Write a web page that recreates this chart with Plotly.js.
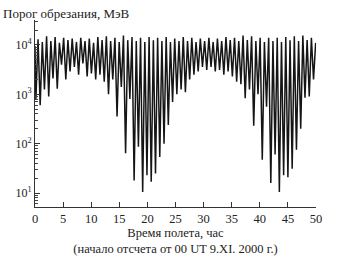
<!DOCTYPE html>
<html><head><meta charset="utf-8">
<script src="https://cdn.plot.ly/plotly-3.0.1.min.js"></script>
<style>html,body{margin:0;padding:0;background:#fff}#c{width:346px;height:263px}</style>
</head><body><div id="c"></div>
<script>
// Trough (minimum) times and values, one per half-orbit
var troughTimes = [0.16,0.92,1.68,2.44,3.20,3.96,4.72,5.48,6.24,7.00,7.76,8.52,9.28,10.04,10.80,11.56,12.32,13.08,13.84,14.60,15.36,16.12,16.88,17.64,18.40,19.16,19.92,20.68,21.44,22.20,22.96,23.72,24.48,25.24,26.00,26.76,27.52,28.28,29.04,29.80,30.56,31.32,32.08,32.84,33.60,34.36,35.12,35.88,36.64,37.40,38.16,38.92,39.68,40.44,41.20,41.96,42.72,43.48,44.24,45.00,45.76,46.52,47.28,48.04,48.80,49.56];
var troughValues = [800,600,1250,900,2100,1300,4000,2000,2900,3600,2500,4200,2300,2650,2000,2500,1800,1000,2000,355,1400,64,800,18,87,10.5,23,17,25,54,100,240,700,1000,1250,1100,2000,2500,2900,3600,3100,3600,2900,3100,2500,2900,2300,1800,1600,830,1250,230,1000,47,560,16,60,10.5,23,21,31,75,200,850,900,2000];
// Peak (maximum) times and values
var peakTimes = [0.00,0.54,1.30,2.06,2.82,3.58,4.34,5.10,5.86,6.62,7.38,8.14,8.90,9.66,10.42,11.18,11.94,12.70,13.46,14.22,14.98,15.74,16.50,17.26,18.02,18.78,19.54,20.30,21.06,21.82,22.58,23.34,24.10,24.86,25.62,26.38,27.14,27.90,28.66,29.42,30.18,30.94,31.70,32.46,33.22,33.98,34.74,35.50,36.26,37.02,37.78,38.54,39.30,40.06,40.82,41.58,42.34,43.10,43.86,44.62,45.38,46.14,46.90,47.66,48.42,49.18,49.94];
var peakValues = [9500,13000,11500,15000,12000,14500,11000,14000,12500,13500,11500,14000,12000,13500,11000,14500,12500,15000,12000,14000,11500,15500,12500,14500,12000,14000,11500,14500,12500,14000,12000,14500,11500,13500,12000,14500,12000,14000,11500,13500,12000,14000,11500,13500,12000,14500,12500,14000,12000,15500,12500,15000,12000,14000,11500,14000,12000,14000,11500,14500,12500,15000,12000,15500,12500,14000,11000];
var yTickVals = [10,100,1000,10000];
var yTickText = ['10<sup>1</sup>','10<sup>2</sup>','10<sup>3</sup>','10<sup>4</sup>'];
var xTickVals = [0,5,10,15,20,25,30,35,40,45,50];

// interleave peaks and troughs into one line
var xs = [], ys = [];
for (var i = 0; i < peakTimes.length; i++) {
  xs.push(peakTimes[i]); ys.push(peakValues[i]);
  if (i < troughTimes.length) { xs.push(troughTimes[i]); ys.push(troughValues[i]); }
}
var minorVals = [];
[1,10,100,1000,10000].forEach(function(d){ for (var m=2;m<=9;m++) minorVals.push(d*m); });

var font = {family:'"Liberation Serif", "DejaVu Serif", serif', color:'#222'};
Plotly.newPlot('c', [{
  x: xs, y: ys, type:'scatter', mode:'lines',
  line:{color:'#151515', width:1.5}, hoverinfo:'skip'
}], {
  width:346, height:263,
  margin:{l:35, r:30, t:20, b:56},
  paper_bgcolor:'#fff', plot_bgcolor:'#fff',
  showlegend:false,
  font: Object.assign({size:12}, font),
  title:{text:'Порог обрезания, МэВ', x:0.009, xanchor:'left', xref:'container', y:0.95, yref:'container', yanchor:'middle', font:Object.assign({size:13}, font)},
  xaxis:{range:[0,50], tickvals:xTickVals, ticks:'inside', ticklen:5, tickcolor:'#333', showline:true, linecolor:'#333', linewidth:1, showgrid:false, zeroline:false, tickfont:Object.assign({size:12.5}, font),
    title:{text:'Время полета, час<br>(начало отсчета от 00 UT 9.XI. 2000 г.)', standoff:2, font:Object.assign({size:12.5}, font)}},
  yaxis:{type:'log', range:[0.717,4.505], tickvals:yTickVals, ticktext:yTickText, ticks:'inside', ticklen:5, tickcolor:'#333', showline:true, linecolor:'#333', linewidth:1, showgrid:false, zeroline:false, tickfont:Object.assign({size:12}, font),
    minor:{tickvals:minorVals, ticks:'inside', ticklen:3, tickcolor:'#444', showgrid:false}}
}, {staticPlot:true, displayModeBar:false});
</script></body></html>
